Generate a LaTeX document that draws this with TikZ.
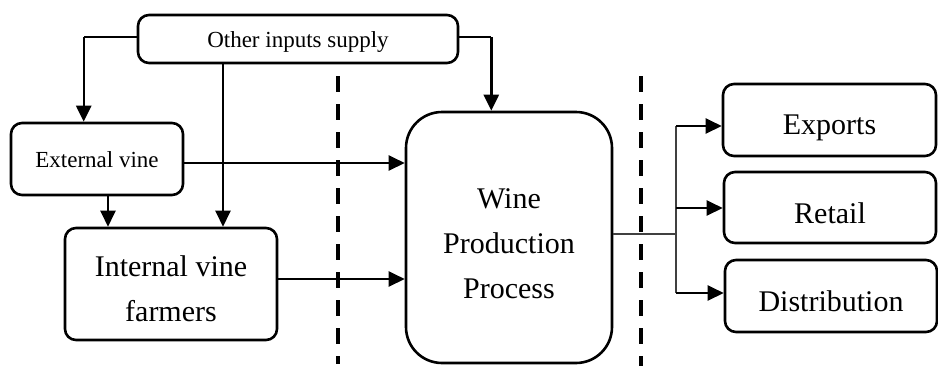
\documentclass[tikz,border=0pt]{standalone}
\usepackage{fontspec}
\setmainfont{Liberation Serif}
\usetikzlibrary{arrows.meta}

\begin{document}
\begin{tikzpicture}[x=1pt,y=-1pt,
  box/.style={draw,line width=2.6pt,rounded corners=11pt,inner sep=0pt},
  smalltxt/.style={font=\fontsize{23}{28}\selectfont,align=center},
  bigtxt/.style={font=\fontsize{30}{45}\selectfont,align=center},
  arr/.style={line width=2.4pt,-{Triangle[length=16pt,width=15pt]}},
  thin/.style={line width=1.4pt},
  trunk/.style={line width=1.2pt,draw=black!75},
  divider/.style={line width=4pt,dash pattern=on 16pt off 12pt}]
\useasboundingbox (0,0) rectangle (938,376);

% boxes, with their texts set as centred labels
\node[box,minimum width=320pt,minimum height=48pt,
  label={[smalltxt,yshift=-3pt]center:Other inputs supply}] (oi) at (298,39) {};
\node[box,minimum width=172pt,minimum height=72pt,
  label={[smalltxt,yshift=-1pt]center:External vine}] (ev) at (97,159) {};
\node[box,minimum width=212pt,minimum height=112pt,
  label={[bigtxt,yshift=-5pt]center:{Internal vine\\farmers}}] (ip) at (171,284) {};
\node[box,rounded corners=36pt,minimum width=206pt,minimum height=251pt,
  label={[bigtxt,yshift=-6pt]center:{Wine\\Production\\Process}}] (wp) at (509,237.5) {};
\node[box,minimum width=213pt,minimum height=72pt,
  label={[bigtxt,yshift=-8pt]center:Exports}] (ex) at (829.5,120) {};
\node[box,minimum width=212pt,minimum height=71pt,
  label={[bigtxt,yshift=-6pt]center:Retail}] (rt) at (830,207.5) {};
\node[box,minimum width=212pt,minimum height=72pt,
  label={[bigtxt,yshift=-5pt]center:Distribution}] (ds) at (831,296) {};

% dashed dividers
\draw[divider] (338,76) -- (338,364);
\draw[divider] (641,76) -- (641,366);

% supply links
\draw[thin] ([yshift=2pt]oi.west) -- ++(-53,0) coordinate (ol);
\draw[arr] (ol) -- (ol |- ev.north);
\draw[thin] ([yshift=2pt]oi.east) -- ++(32,0) coordinate (or);
\draw[arr] (or) -- (or |- wp.north);
\draw[arr] ([xshift=-75pt]oi.south) -- ([xshift=-75pt]oi.south |- ip.north);

% vine links
\draw[arr] ([yshift=-4pt]ev.east) -- ([yshift=-4pt]ev.east -| wp.west);
\draw[arr] ([xshift=11pt]ev.south) -- ([xshift=11pt]ev.south |- ip.north);
\draw[arr] ([yshift=5pt]ip.east) -- ([yshift=5pt]ip.east -| wp.west);

% output distribution
\coordinate (split) at (676,234);
\coordinate (t1) at (676,126);
\coordinate (t2) at (676,208);
\coordinate (t3) at (676,293);
\draw[trunk] ([yshift=3.5pt]wp.east) -- (split);
\draw[trunk] (t1) -- (t3);
\draw[arr] (t1) -- (t1 -| ex.west);
\draw[arr] (t2) -- (t2 -| rt.west);
\draw[arr] (t3) -- (t3 -| ds.west);
\end{tikzpicture}
\end{document}
